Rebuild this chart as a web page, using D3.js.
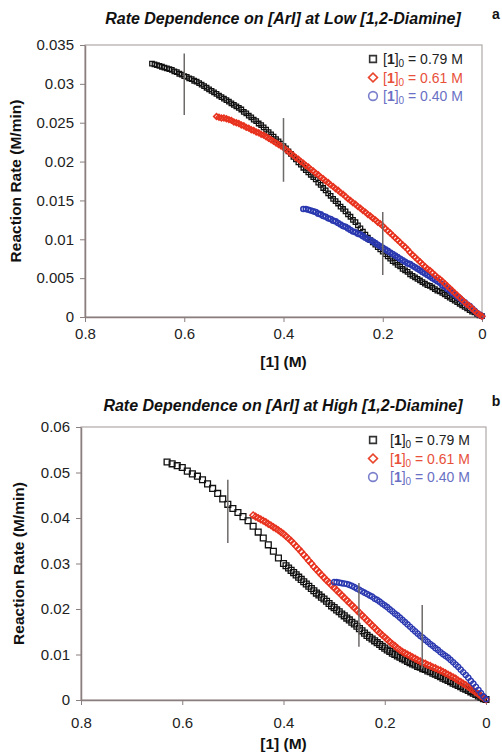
<!DOCTYPE html>
<html><head><meta charset="utf-8">
<script src="https://cdn.jsdelivr.net/npm/d3@7"></script>
<style>
body{margin:0;background:#fff}
svg{display:block}
text{font-family:Arial,"Liberation Sans",Helvetica,sans-serif}
</style>
</head><body>
<svg id="c" width="502" height="753"></svg>
<script>
// ---------- DATA ----------
const xTicks = [0.8, 0.6, 0.4, 0.2, 0];
const yTicksA = [0, 0.005, 0.01, 0.015, 0.02, 0.025, 0.03, 0.035];
const yTicksB = [0, 0.01, 0.02, 0.03, 0.04, 0.05, 0.06];
const legendLabels = ["0.79 M", "0.61 M", "0.40 M"];
const titleA = "Rate Dependence on [ArI] at Low [1,2-Diamine]";
const titleB = "Rate Dependence on [ArI] at High [1,2-Diamine]";

// Panel a: [ [1] (M), rate (M/min) ]
const aBlack = [[0.665,0.0326],[0.660,0.0325],[0.655,0.0324],[0.650,0.0323],[0.645,0.0322],[0.640,0.0321],[0.635,0.0320],[0.630,0.0319],[0.625,0.0318],[0.620,0.0316],[0.615,0.0315],[0.610,0.0313],[0.605,0.0312],[0.600,0.0310],[0.595,0.0309],[0.590,0.0307],[0.585,0.0306],[0.580,0.0304],[0.575,0.0303],[0.570,0.0301],[0.565,0.0299],[0.560,0.0297],[0.555,0.0295],[0.550,0.0293],[0.545,0.0291],[0.540,0.0289],[0.535,0.0287],[0.530,0.0285],[0.525,0.0283],[0.520,0.0281],[0.515,0.0279],[0.510,0.0277],[0.505,0.0275],[0.500,0.0273],[0.495,0.0271],[0.490,0.0269],[0.485,0.0267],[0.480,0.0264],[0.475,0.0262],[0.470,0.0259],[0.465,0.0257],[0.460,0.0254],[0.455,0.0252],[0.450,0.0249],[0.445,0.0247],[0.440,0.0244],[0.435,0.0241],[0.430,0.0238],[0.425,0.0235],[0.420,0.0232],[0.415,0.0229],[0.410,0.0226],[0.405,0.0223],[0.400,0.0220],[0.395,0.0217],[0.390,0.0213],[0.385,0.0210],[0.380,0.0206],[0.375,0.0203],[0.370,0.0199],[0.365,0.0196],[0.360,0.0192],[0.355,0.0189],[0.350,0.0186],[0.345,0.0183],[0.340,0.0180],[0.335,0.0177],[0.330,0.0173],[0.325,0.0170],[0.320,0.0166],[0.315,0.0163],[0.310,0.0159],[0.305,0.0156],[0.300,0.0152],[0.295,0.0149],[0.290,0.0146],[0.285,0.0142],[0.280,0.0139],[0.275,0.0136],[0.270,0.0132],[0.265,0.0129],[0.260,0.0125],[0.255,0.0122],[0.250,0.0118],[0.245,0.0114],[0.240,0.0110],[0.235,0.0106],[0.230,0.0102],[0.225,0.0099],[0.220,0.0096],[0.215,0.0093],[0.210,0.0090],[0.205,0.0087],[0.200,0.0084],[0.195,0.0081],[0.190,0.0078],[0.185,0.0075],[0.180,0.0072],[0.175,0.0070],[0.170,0.0067],[0.165,0.0065],[0.160,0.0062],[0.155,0.0060],[0.150,0.0058],[0.145,0.0055],[0.140,0.0053],[0.135,0.0051],[0.130,0.0049],[0.125,0.0047],[0.120,0.0045],[0.115,0.0043],[0.110,0.0041],[0.105,0.0040],[0.100,0.0038],[0.095,0.0036],[0.090,0.0034],[0.085,0.0033],[0.080,0.0031],[0.075,0.0029],[0.070,0.0027],[0.065,0.0025],[0.060,0.0023],[0.055,0.0021],[0.050,0.0019],[0.045,0.0017],[0.040,0.0015],[0.035,0.0013],[0.030,0.0011],[0.025,0.0009],[0.020,0.0007],[0.015,0.0006],[0.010,0.0004],[0.005,0.0002],[0.000,0.0001]];
const aRed = [[0.535,0.0258],[0.530,0.0257],[0.525,0.0256],[0.520,0.0256],[0.515,0.0255],[0.510,0.0254],[0.505,0.0253],[0.500,0.0251],[0.495,0.0250],[0.490,0.0249],[0.485,0.0247],[0.480,0.0246],[0.475,0.0244],[0.470,0.0243],[0.465,0.0241],[0.460,0.0240],[0.455,0.0238],[0.450,0.0237],[0.445,0.0235],[0.440,0.0234],[0.435,0.0232],[0.430,0.0230],[0.425,0.0228],[0.420,0.0226],[0.415,0.0224],[0.410,0.0222],[0.405,0.0220],[0.400,0.0218],[0.395,0.0215],[0.390,0.0213],[0.385,0.0210],[0.380,0.0208],[0.375,0.0205],[0.370,0.0203],[0.365,0.0200],[0.360,0.0198],[0.355,0.0195],[0.350,0.0193],[0.345,0.0190],[0.340,0.0188],[0.335,0.0185],[0.330,0.0183],[0.325,0.0180],[0.320,0.0178],[0.315,0.0175],[0.310,0.0173],[0.305,0.0170],[0.300,0.0168],[0.295,0.0165],[0.290,0.0163],[0.285,0.0160],[0.280,0.0158],[0.275,0.0155],[0.270,0.0152],[0.265,0.0150],[0.260,0.0147],[0.255,0.0145],[0.250,0.0142],[0.245,0.0140],[0.240,0.0137],[0.235,0.0135],[0.230,0.0132],[0.225,0.0130],[0.220,0.0127],[0.215,0.0125],[0.210,0.0122],[0.205,0.0120],[0.200,0.0117],[0.195,0.0114],[0.190,0.0111],[0.185,0.0108],[0.180,0.0105],[0.175,0.0102],[0.170,0.0099],[0.165,0.0096],[0.160,0.0093],[0.155,0.0090],[0.150,0.0087],[0.145,0.0083],[0.140,0.0080],[0.135,0.0077],[0.130,0.0074],[0.125,0.0071],[0.120,0.0068],[0.115,0.0065],[0.110,0.0062],[0.105,0.0060],[0.100,0.0057],[0.095,0.0054],[0.090,0.0051],[0.085,0.0049],[0.080,0.0046],[0.075,0.0043],[0.070,0.0040],[0.065,0.0037],[0.060,0.0034],[0.055,0.0031],[0.050,0.0028],[0.045,0.0025],[0.040,0.0022],[0.035,0.0019],[0.030,0.0016],[0.025,0.0014],[0.020,0.0011],[0.015,0.0008],[0.010,0.0005],[0.005,0.0003],[0.000,0.0001]];
const aBlue = [[0.360,0.0139],[0.355,0.0139],[0.350,0.0138],[0.345,0.0137],[0.340,0.0136],[0.335,0.0135],[0.330,0.0133],[0.325,0.0132],[0.320,0.0130],[0.315,0.0129],[0.310,0.0127],[0.305,0.0126],[0.300,0.0124],[0.295,0.0123],[0.290,0.0121],[0.285,0.0119],[0.280,0.0117],[0.275,0.0116],[0.270,0.0114],[0.265,0.0112],[0.260,0.0110],[0.255,0.0109],[0.250,0.0107],[0.245,0.0106],[0.240,0.0104],[0.235,0.0102],[0.230,0.0100],[0.225,0.0099],[0.220,0.0097],[0.215,0.0095],[0.210,0.0093],[0.205,0.0091],[0.200,0.0089],[0.195,0.0087],[0.190,0.0085],[0.185,0.0083],[0.180,0.0081],[0.175,0.0079],[0.170,0.0077],[0.165,0.0075],[0.160,0.0073],[0.155,0.0071],[0.150,0.0069],[0.145,0.0068],[0.140,0.0066],[0.135,0.0064],[0.130,0.0062],[0.125,0.0060],[0.120,0.0058],[0.115,0.0056],[0.110,0.0054],[0.105,0.0052],[0.100,0.0050],[0.095,0.0048],[0.090,0.0046],[0.085,0.0044],[0.080,0.0041],[0.075,0.0039],[0.070,0.0036],[0.065,0.0034],[0.060,0.0031],[0.055,0.0029],[0.050,0.0026],[0.045,0.0024],[0.040,0.0021],[0.035,0.0019],[0.030,0.0016],[0.025,0.0014],[0.020,0.0011],[0.015,0.0008],[0.010,0.0005],[0.005,0.0003],[0.000,0.0001]];
// vertical marker lines: [x, top, bottom]
const aBars = [[0.6,0.0339,0.0260],[0.4,0.0256,0.0174],[0.2,0.0135,0.0054]];

// Panel b
const bBlack = [[0.63,0.0523],[0.62,0.0519],[0.61,0.0515],[0.60,0.0511],[0.59,0.0503],[0.58,0.0497],[0.57,0.0492],[0.56,0.0484],[0.55,0.0475],[0.54,0.0465],[0.53,0.0454],[0.52,0.0442],[0.51,0.0430],[0.50,0.0421],[0.49,0.0412],[0.48,0.0403],[0.47,0.0394],[0.46,0.0382],[0.45,0.0369],[0.44,0.0356],[0.43,0.0341],[0.42,0.0327],[0.41,0.0312],[0.40,0.0300],[0.395,0.0295],[0.39,0.0290],[0.385,0.0285],[0.38,0.0280],[0.375,0.0275],[0.37,0.0270],[0.365,0.0265],[0.36,0.0260],[0.355,0.0255],[0.35,0.0250],[0.345,0.0245],[0.34,0.0240],[0.335,0.0235],[0.33,0.0231],[0.325,0.0226],[0.32,0.0222],[0.315,0.0217],[0.31,0.0212],[0.305,0.0207],[0.30,0.0203],[0.295,0.0198],[0.29,0.0194],[0.285,0.0189],[0.28,0.0185],[0.275,0.0180],[0.27,0.0176],[0.265,0.0171],[0.26,0.0167],[0.255,0.0162],[0.25,0.0157],[0.245,0.0152],[0.24,0.0147],[0.235,0.0142],[0.23,0.0138],[0.225,0.0134],[0.22,0.0130],[0.215,0.0126],[0.21,0.0122],[0.205,0.0118],[0.20,0.0114],[0.195,0.0110],[0.19,0.0107],[0.185,0.0103],[0.18,0.0100],[0.175,0.0097],[0.17,0.0094],[0.165,0.0091],[0.16,0.0088],[0.155,0.0085],[0.15,0.0082],[0.145,0.0079],[0.14,0.0077],[0.135,0.0074],[0.13,0.0072],[0.125,0.0069],[0.12,0.0067],[0.115,0.0064],[0.11,0.0062],[0.105,0.0059],[0.10,0.0057],[0.095,0.0054],[0.09,0.0051],[0.085,0.0048],[0.08,0.0046],[0.075,0.0043],[0.07,0.0040],[0.065,0.0037],[0.06,0.0035],[0.055,0.0032],[0.05,0.0029],[0.045,0.0026],[0.04,0.0024],[0.035,0.0021],[0.03,0.0018],[0.025,0.0015],[0.02,0.0012],[0.015,0.0009],[0.01,0.0006],[0.005,0.0003],[0.00,0.0001]];
const bRed = [[0.460,0.0406],[0.455,0.0403],[0.450,0.0400],[0.445,0.0397],[0.440,0.0394],[0.435,0.0391],[0.430,0.0387],[0.425,0.0384],[0.420,0.0380],[0.415,0.0377],[0.410,0.0373],[0.405,0.0369],[0.400,0.0365],[0.395,0.0360],[0.390,0.0355],[0.385,0.0350],[0.380,0.0344],[0.375,0.0338],[0.370,0.0332],[0.365,0.0326],[0.360,0.0319],[0.355,0.0313],[0.350,0.0306],[0.345,0.0300],[0.340,0.0293],[0.335,0.0287],[0.330,0.0281],[0.325,0.0275],[0.320,0.0269],[0.315,0.0263],[0.310,0.0258],[0.305,0.0252],[0.300,0.0247],[0.295,0.0241],[0.290,0.0236],[0.285,0.0230],[0.280,0.0225],[0.275,0.0219],[0.270,0.0214],[0.265,0.0208],[0.260,0.0203],[0.255,0.0197],[0.250,0.0192],[0.245,0.0186],[0.240,0.0181],[0.235,0.0175],[0.230,0.0170],[0.225,0.0164],[0.220,0.0159],[0.215,0.0153],[0.210,0.0148],[0.205,0.0143],[0.200,0.0138],[0.195,0.0133],[0.190,0.0128],[0.185,0.0123],[0.180,0.0119],[0.175,0.0114],[0.170,0.0110],[0.165,0.0106],[0.160,0.0103],[0.155,0.0100],[0.150,0.0097],[0.145,0.0094],[0.140,0.0091],[0.135,0.0088],[0.130,0.0085],[0.125,0.0082],[0.120,0.0080],[0.115,0.0077],[0.110,0.0075],[0.105,0.0072],[0.100,0.0070],[0.095,0.0067],[0.090,0.0065],[0.085,0.0062],[0.080,0.0059],[0.075,0.0056],[0.070,0.0053],[0.065,0.0050],[0.060,0.0047],[0.055,0.0043],[0.050,0.0040],[0.045,0.0036],[0.040,0.0033],[0.035,0.0029],[0.030,0.0025],[0.025,0.0021],[0.020,0.0017],[0.015,0.0013],[0.010,0.0009],[0.005,0.0005],[0.000,0.0001]];
const bBlue = [[0.300,0.0259],[0.295,0.0259],[0.290,0.0258],[0.285,0.0257],[0.280,0.0256],[0.275,0.0255],[0.270,0.0253],[0.265,0.0251],[0.260,0.0248],[0.255,0.0245],[0.250,0.0242],[0.245,0.0239],[0.240,0.0236],[0.235,0.0233],[0.230,0.0230],[0.225,0.0227],[0.220,0.0223],[0.215,0.0220],[0.210,0.0216],[0.205,0.0212],[0.200,0.0208],[0.195,0.0204],[0.190,0.0199],[0.185,0.0195],[0.180,0.0190],[0.175,0.0186],[0.170,0.0181],[0.165,0.0176],[0.160,0.0171],[0.155,0.0166],[0.150,0.0161],[0.145,0.0156],[0.140,0.0151],[0.135,0.0146],[0.130,0.0141],[0.125,0.0137],[0.120,0.0132],[0.115,0.0128],[0.110,0.0123],[0.105,0.0119],[0.100,0.0114],[0.095,0.0110],[0.090,0.0105],[0.085,0.0101],[0.080,0.0097],[0.075,0.0093],[0.070,0.0088],[0.065,0.0083],[0.060,0.0078],[0.055,0.0073],[0.050,0.0067],[0.045,0.0061],[0.040,0.0055],[0.035,0.0049],[0.030,0.0042],[0.025,0.0036],[0.020,0.0029],[0.015,0.0022],[0.010,0.0015],[0.005,0.0008],[0.000,0.0002]];
const bBars = [[0.51,0.0484,0.0345],[0.251,0.0257,0.0117],[0.126,0.0209,0.0070]];

// ---------- STYLE ----------
const COL = {black:"#111111", red:"#e8321e", blue:"#2a38b0"};
const LEGTXT = {black:"#222222", red:"#e8503a", blue:"#6a70c4"};
const LEGMK = {black:"#333333", red:"#e8452c", blue:"#7a80cc"};
const svg = d3.select("#c");

function drawPanel(cfg){
  const g = svg.append("g");
  const x = d3.scaleLinear().domain([0.8,0]).range([cfg.left, cfg.right]);
  const y = d3.scaleLinear().domain([0, cfg.ymax]).range([cfg.bottom, cfg.top]);

  g.append("rect").attr("x",cfg.left).attr("y",cfg.top)
    .attr("width",cfg.right-cfg.left).attr("height",cfg.bottom-cfg.top)
    .attr("fill","#fff").attr("stroke","#b0a8a8").attr("stroke-width",1.2);

  const yAx = g.append("g").attr("transform",`translate(${cfg.left},0)`)
    .call(d3.axisLeft(y).tickValues(cfg.yTicks).tickSize(5).tickSizeOuter(0).tickPadding(6)
      .tickFormat(d => String(+d.toFixed(3))));
  const xAx = g.append("g").attr("transform",`translate(0,${cfg.bottom})`)
    .call(d3.axisBottom(x).tickValues(xTicks).tickSize(5).tickSizeOuter(0).tickPadding(cfg.xpad)
      .tickFormat(d => String(d)));
  [yAx,xAx].forEach(a=>{
    a.selectAll("path").attr("stroke","#8a7e7e").attr("stroke-width",1.5);
    a.selectAll("line").attr("stroke","#8a7e7e").attr("stroke-width",1);
    a.selectAll("text").attr("font-size",15).attr("fill","#222")
      .attr("font-family","Arial, 'Liberation Sans', sans-serif");
  });

  const symPath = (sym, area) => d3.symbol(sym === "diamond" ? d3.symbolSquare : sym, area)();
  const plotSeries = s => {
    g.append("g").selectAll("path").data(s.data).join("path")
      .attr("transform", d => `translate(${x(d[0])},${y(d[1])})` + (s.sym === "diamond" ? " rotate(45)" : ""))
      .attr("d", symPath(s.sym, s.area))
      .attr("fill","none").attr("stroke", COL[s.key]).attr("stroke-width", s.sw);
  };
  cfg.order.forEach(plotSeries);

  g.append("g").selectAll("line").data(cfg.bars).join("line")
    .attr("x1", d => x(d[0])).attr("x2", d => x(d[0]))
    .attr("y1", d => y(d[1])).attr("y2", d => y(d[2]))
    .attr("stroke","#6e6a6a").attr("stroke-width",1.5);

  g.append("text").attr("x", cfg.titleX).attr("y", cfg.titleY).attr("text-anchor","middle")
    .attr("font-size",16).attr("font-weight","bold").attr("font-style","italic").attr("fill","#111")
    .text(cfg.title);
  g.append("text").attr("x", 496).attr("y", cfg.titleY - 5).attr("text-anchor","middle")
    .attr("font-size",14).attr("font-weight","bold").attr("fill","#111").text(cfg.letter);
  g.append("text").attr("transform",`translate(${cfg.ylabX},${(cfg.top+cfg.bottom)/2}) rotate(-90)`)
    .attr("text-anchor","middle").attr("font-size",15.5).attr("font-weight","bold").attr("fill","#111")
    .text("Reaction Rate (M/min)");
  g.append("text").attr("x",(cfg.left+cfg.right)/2).attr("y",cfg.xlabY).attr("text-anchor","middle")
    .attr("font-size",15.5).attr("font-weight","bold").attr("fill","#111").text("[1] (M)");

  const legKeys = [["black",d3.symbolSquare,45],["red","diamond",40],["blue",d3.symbolCircle,60]];
  legKeys.forEach((k,i)=>{
    const ly = cfg.legY + i*cfg.legDy;
    g.append("path").attr("transform",`translate(${cfg.legX},${ly})` + (k[1]==="diamond"?" rotate(45)":""))
      .attr("d", symPath(k[1], k[2]))
      .attr("fill","none").attr("stroke", LEGMK[k[0]]).attr("stroke-width",1.6);
    const t = g.append("text").attr("x", cfg.legX+cfg.legTx).attr("y", ly+5)
      .attr("font-size",14).attr("fill",LEGTXT[k[0]]);
    t.append("tspan").text("[");
    t.append("tspan").attr("font-weight","bold").text("1");
    t.append("tspan").text("]");
    t.append("tspan").attr("font-size",10).attr("dy",3).text("0");
    t.append("tspan").attr("dy",-3).text(" = " + legendLabels[i]);
  });
}

drawPanel({
  left:85, right:482, top:45, bottom:317, ymax:0.035, yTicks:yTicksA, xpad:6,
  title:titleA, letter:"a", titleX:283, titleY:24, ylabX:21, xlabY:367,
  legX:373, legY:59, legDy:18.5, legTx:10, bars:aBars,
  order:[
    {data:aBlack,key:"black",sym:d3.symbolSquare,area:20,sw:1.3},
    {data:aBlue,key:"blue",sym:d3.symbolCircle,area:20,sw:1.6},
    {data:aRed,key:"red",sym:"diamond",area:16,sw:1.6}
  ]
});
drawPanel({
  left:81, right:486, top:427, bottom:700, ymax:0.06, yTicks:yTicksB, xpad:12,
  title:titleB, letter:"b", titleX:283, titleY:411, ylabX:24, xlabY:749,
  legX:373, legY:440, legDy:18.5, legTx:17, bars:bBars,
  order:[
    {data:bBlack,key:"black",sym:d3.symbolSquare,area:34,sw:1.3},
    {data:bRed,key:"red",sym:"diamond",area:22,sw:1.4},
    {data:bBlue,key:"blue",sym:d3.symbolCircle,area:22,sw:1.4}
  ]
});
</script>
</body></html>
